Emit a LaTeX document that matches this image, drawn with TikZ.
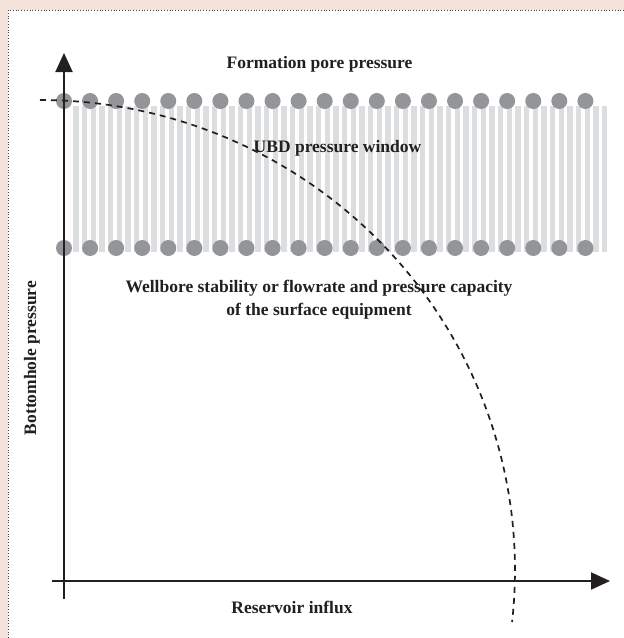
\documentclass[tikz,border=0pt]{standalone}
\usepackage{fontspec}
\setmainfont{Liberation Serif}
\usetikzlibrary{arrows.meta}
\definecolor{Cframepink}{HTML}{F4E3DB}
\definecolor{Cporegrey}{HTML}{939598}
\definecolor{Cwindowgrey}{HTML}{DCDDDE}
\definecolor{Caxisblack}{HTML}{231F20}

\begin{document}
\begin{tikzpicture}[x=1pt,y=-1pt,
		axis/.style={line width=2pt,Caxisblack,-{Triangle[length=19pt,width=17pt]}},
		lbl/.style={font=\bfseries\fontsize{17.5}{23}\selectfont,text=Caxisblack,inner sep=0pt,align=center},
		porept/.style={fill=Cporegrey},
		bar/.style={fill=Cwindowgrey},
		influx/.style={line width=1.7pt,Caxisblack,dash pattern=on 6pt off 5pt}]
		\useasboundingbox (0,0) rectangle (624,638);
		\fill[Cframepink] (0,0) rectangle (624,638);
		\fill[white] (8,10) rectangle (624,638);
		\draw[line width=0.8pt,black!75,dotted] (8,638) -- (8,10) -- (624,10);
		\foreach \i in {0,...,61}
		\fill[bar] ({73.3+\i*8.667},106) rectangle ++(5.4,146);
		\foreach \i in {0,...,20}{
			\fill[porept] ({64+\i*26.07},101) circle (8);
			\fill[porept] ({64+\i*26.07},248) circle (8);
		}
		\coordinate (ybot) at (64,599);
		\coordinate (ytip) at (64,53);
		\coordinate (xleft) at (52,581);
		\coordinate (xtip) at (610,581);
		\draw[axis] (ybot) -- (ytip);
		\draw[axis] (xleft) -- (xtip);
		\node[lbl] (pore) at (319.5,64) {Formation pore pressure};
		\node[lbl] (window) at (337.5,148) {UBD pressure window};
		\node[lbl] (stability) at (319,300) {Wellbore stability or flowrate and pressure capacity\\of the surface equipment};
		\node[lbl] (xlabel) at (292,607) {Reservoir influx};
		\node[lbl,rotate=90] (ylabel) at (32,358) {Bottomhole pressure};
		\draw[influx] plot[domain=-90:6.35,samples=80,smooth] ({40+475*cos(\x)},{570+470*sin(\x)});
	\end{tikzpicture}
\end{document}
